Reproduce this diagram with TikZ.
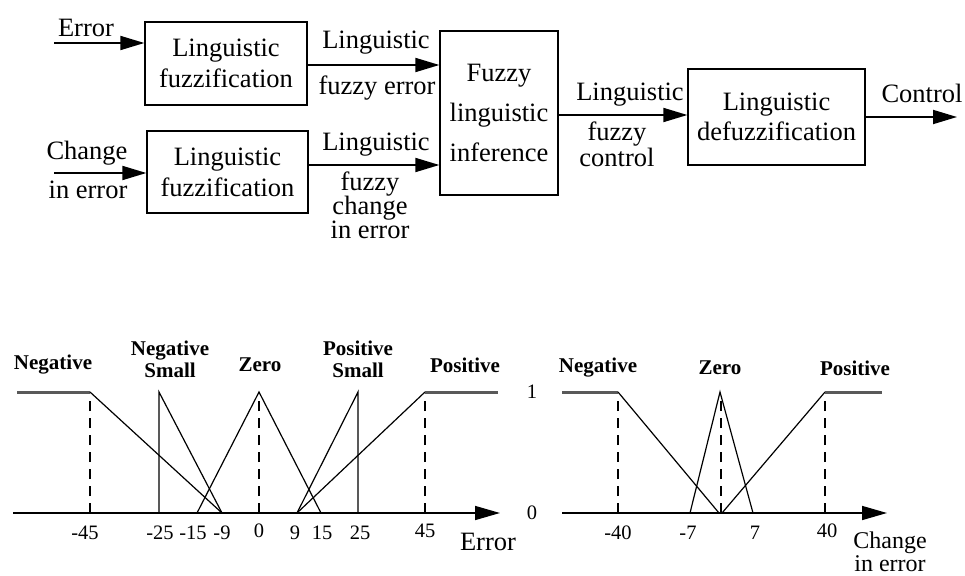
\documentclass[tikz,border=0pt]{standalone}
\usepackage{fontspec}
\setmainfont{Liberation Serif}
\usetikzlibrary{arrows.meta}
\lineskiplimit=-100pt
\begin{document}
\begin{tikzpicture}[x=1pt,y=-1pt,
  box/.style={draw, line width=1.3pt, align=center, inner sep=0pt, font=\fontsize{26.5}{31}\selectfont},
  lbl/.style={align=center, inner sep=0pt, font=\fontsize{26.5}{30}\selectfont},
  flow/.style={line width=1.8pt, -{Triangle[length=24pt,width=14pt]}},
  mlbl/.style={font=\bfseries\fontsize{21}{22}\selectfont, inner sep=0pt, align=center},
  tlbl/.style={font=\fontsize{20.5}{22}\selectfont, inner sep=0pt},
  mf/.style={line width=1.2pt},
  flat/.style={line width=3pt, gray!70!black},
  guide/.style={line width=1.3pt, dash pattern=on 10pt off 7pt},
  axis/.style={line width=1.6pt, -{Triangle[length=25pt,width=14pt]}}
]
\useasboundingbox (0,0) rectangle (965,575);

% ---------- block diagram ----------
\node[box, minimum width=162pt, minimum height=83pt] (fz1) at (226,63.5) {Linguistic\\fuzzification};
\node[box, minimum width=161pt, minimum height=82pt] (fz2) at (227.5,172) {Linguistic\\fuzzification};
\node[box, minimum width=118pt, minimum height=164pt, font=\fontsize{26.5}{40}\selectfont] (inf) at (499,113) {Fuzzy\\linguistic\\inference};
\node[box, minimum width=177pt, minimum height=96pt, font=\fontsize{26.5}{30}\selectfont] (dfz) at (776.5,117) {Linguistic\\defuzzification};

\coordinate (ein) at (54,43);
\coordinate (cin) at (54,173);
\coordinate (cout) at (957,117);

\draw[flow] (ein) -- (fz1.west |- ein);
\draw[flow] (cin) -- (fz2.west |- cin);
\draw[flow] (fz1.east |- 0,65) -- (inf.west |- 0,65);
\draw[flow] (fz2.east |- 0,165) -- (inf.west |- 0,165);
\draw[flow] (inf.east |- 0,115) -- (dfz.west |- 0,115);
\draw[flow] (dfz.east |- cout) -- (cout);

\node[lbl] (lerr) at (86,28) {Error};
\node[lbl] (lch1) at (87,153) {Change};
\node[lbl] (lch2) at (88,190) {in error};
\node[lbl] (l1a) at (376,43) {Linguistic};
\node[lbl] (l1b) at (377,88) {fuzzy error};
\node[lbl] (l2a) at (376,145) {Linguistic};
\node[lbl, font=\fontsize{26.5}{24}\selectfont] (l2b) at (370,205) {fuzzy\\change\\in error};
\node[lbl] (l3a) at (630,95) {Linguistic};
\node[lbl, font=\fontsize{26.5}{26}\selectfont] (l3b) at (617,144) {fuzzy\\control};
\node[lbl] (lctl) at (922,93) {Control};

% ---------- Error membership functions ----------
\draw[axis] (13,513) -- (500,513);
\draw[guide] (90,513) -- (90,400);
\draw[guide] (259,513) -- (259,397);
\draw[guide] (425,513) -- (425,400);
\draw[flat] (17,392) -- (90,392);
\draw[mf] (90,392) -- (222,513);
\draw[mf] (159,513) -- (159,392) -- (222,513);
\draw[mf] (197,513) -- (259,392) -- (321,513);
\draw[mf] (297,513) -- (358,392) -- (358,513);
\draw[mf] (297,513) -- (425,392);
\draw[flat] (425,392) -- (498,392);

\node[mlbl] (m1) at (53,365) {Negative};
\node[mlbl] (m2) at (170,359) {Negative\\Small};
\node[mlbl] (m3) at (260,365) {Zero};
\node[mlbl] (m4) at (358,359) {Positive\\Small};
\node[mlbl] (m5) at (465,365) {Positive};

\node[tlbl] (t1) at (85,533) {-45};
\node[tlbl] (t2) at (160,533) {-25};
\node[tlbl] (t3) at (193,533) {-15};
\node[tlbl] (t4) at (222,533) {-9};
\node[tlbl] (t5) at (259,531) {0};
\node[tlbl] (t6) at (295,533) {9};
\node[tlbl] (t7) at (322,533) {15};
\node[tlbl] (t8) at (360,533) {25};
\node[tlbl] (t9) at (425,531) {45};
\node[lbl] (xerr) at (488,542) {Error};

% ---------- Change in error membership functions ----------
\draw[axis] (562,513) -- (887,513);
\draw[guide] (618,513) -- (618,400);
\draw[guide] (721,513) -- (721,397);
\draw[guide] (825,513) -- (825,400);
\draw[flat] (562,392) -- (618,392);
\draw[mf] (618,392) -- (719,513);
\draw[mf] (690,513) -- (720,392) -- (753,513);
\draw[mf] (722,513) -- (825,392);
\draw[flat] (825,392) -- (882,392);

\node[tlbl] (y1) at (532,392) {1};
\node[tlbl] (y0) at (532,513) {0};
\node[mlbl] (c1) at (598,368) {Negative};
\node[mlbl] (c2) at (720,368) {Zero};
\node[mlbl] (c3) at (855,368) {Positive};

\node[tlbl] (u1) at (618,533) {-40};
\node[tlbl] (u2) at (688,533) {-7};
\node[tlbl] (u3) at (755,533) {7};
\node[tlbl] (u4) at (827,531) {40};
\node[lbl, font=\fontsize{24}{23}\selectfont] (xch) at (890,552) {Change\\in error};
\end{tikzpicture}
\end{document}
